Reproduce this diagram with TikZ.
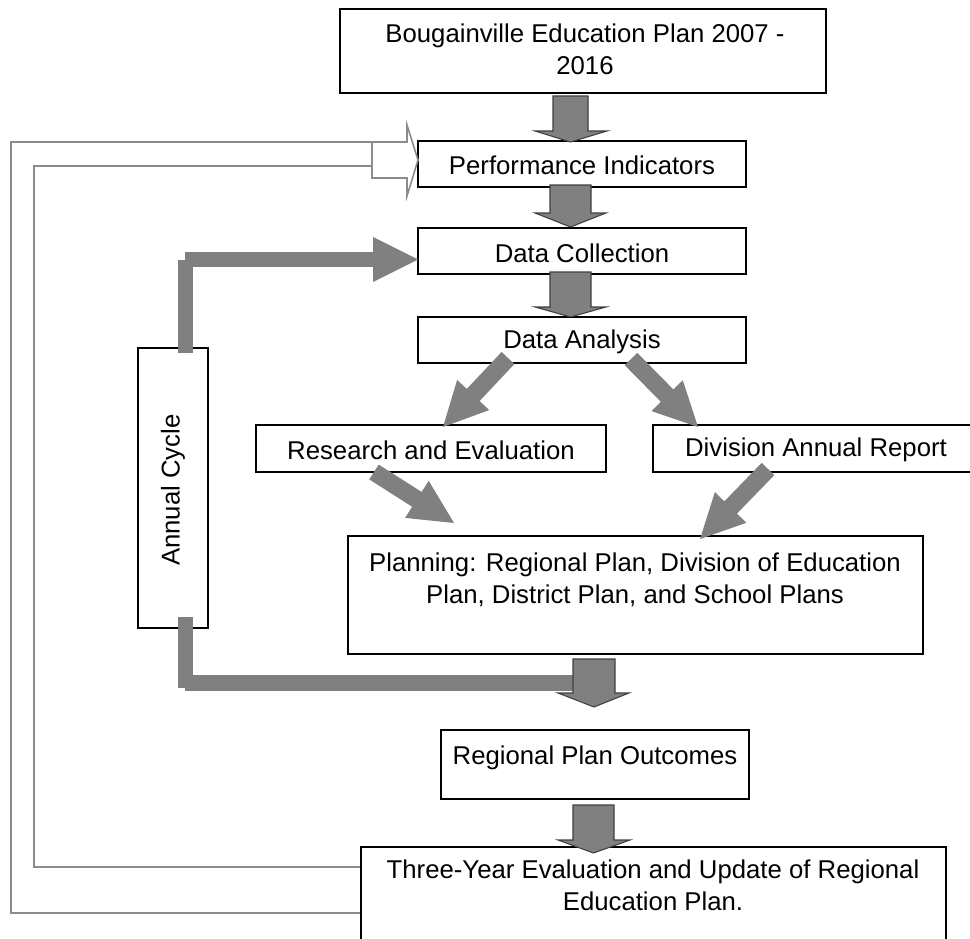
\documentclass[tikz,border=0pt]{standalone}
\usepackage{fontspec}
\setmainfont{Liberation Sans}
\usetikzlibrary{calc,fit}
\definecolor{arrowgray}{HTML}{808080}
\definecolor{edgegray}{HTML}{404040}
\definecolor{linegray}{HTML}{8C8C8C}
% block arrow: #1 start coord, #2 tip coord, #3 shaft half width, #4 head half width, #5 head length, #6 style
\newcommand\blockarr[6]{%
  \coordinate (ba-b) at ($(#2)!#5!(#1)$);
  \fill[#6] ($(#1)!#3!90:(#2)$) -- ($(ba-b)!#3!-90:(#1)$) -- ($(ba-b)!#4!-90:(#1)$) -- (#2)
    -- ($(ba-b)!#4!90:(#1)$) -- ($(ba-b)!#3!90:(#1)$) -- ($(#1)!#3!-90:(#2)$) -- cycle;}
% vertical outlined block arrow: shaft x1 x2, top, head base, wing x1 x2, tip
\newcommand\vblock[7]{%
  \draw[downarr] (#1,#3) -- (#2,#3) -- (#2,#4) -- (#6,#4) -- ({(#1+#2)/2},#7) -- (#5,#4) -- (#1,#4) -- cycle;}
\begin{document}
\begin{tikzpicture}[x=0.75pt,y=-0.75pt,
  box/.style={draw=black, line width=1.2pt, inner sep=0pt, fill=white},
  txt/.style={font=\fontsize{19.3}{24}\selectfont, align=center, inner sep=0pt},
  downarr/.style={fill=arrowgray, draw=edgegray, line width=0.8pt, line join=miter},
  flatarr/.style={fill=arrowgray},
  bar/.style={draw=arrowgray, line width=11.5pt},
  fb/.style={draw=linegray, line width=1.2pt}]
\useasboundingbox (0,0) rectangle (970,938);
\clip (0,0) rectangle (970,938);

% boxes
\node[box, fit={(340,9) (826,93)}] (bep) {};
\node[box, fit={(418,141) (746,187)}] (pi) {};
\node[box, fit={(418,228) (746,274)}] (dc) {};
\node[box, fit={(418,317) (746,363)}] (da) {};
\node[box, fit={(256,425) (606,472)}] (re) {};
\node[box, fit={(653,425) (982,472)}] (dar) {};
\node[box, fit={(348,536) (923,654)}] (plan) {};
\node[box, fit={(441,730) (749,799)}] (rpo) {};
\node[box, fit={(361,847) (946,960)}] (ty) {};
\node[box, fit={(138,348) (208,628)}] (ac) {};

% texts
\node[txt] (tbep) at (585,49) {Bougainville Education Plan 2007 -\\2016};
\node[txt] (tpi) at (582,165) {Performance Indicators};
\node[txt] (tdc) at (582,253) {Data Collection};
\node[txt] (tda) at (582,342) {Data Analysis};
\node[txt] (tre) at (431,450) {Research and Evaluation};
\node[txt] (tdar) at (816,450) {Division Annual Report};
\node[txt] (tplan) at (635,580) {Planning: Regional Plan, Division of Education\\Plan, District Plan, and School Plans};
\node[txt] (trpo) at (595,758) {Regional Plan Outcomes};
\node[txt] (tty) at (653,885) {Three-Year Evaluation and Update of Regional\\Education Plan.};
\node[txt, rotate=90] (tac) at (173,490) {Annual Cycle};

% feedback lines and hollow arrow
\coordinate (yo) at (0,913);
\coordinate (yi) at (0,867);
\draw[fb] (ty.west |- yo) -- (11,913) -- (11,142) -- (372,142);
\draw[fb] (ty.west |- yi) -- (34,867) -- (34,166) -- (372,166);
\draw[fb, fill=white, line join=miter] (372,142) -- (407,142) -- (407,125) -- (418,160) -- (407,196) -- (407,178) -- (372,178) -- cycle;

% annual cycle thick arrows
\draw[bar] (185.5,353) -- (185.5,260);
\draw[bar] (185,259.5) -- (374,259.5);
\fill[flatarr] (373,237) -- (418,259.5) -- (373,282) -- cycle;
\draw[bar] (185.5,617) -- (185.5,688);
\draw[bar, line width=12pt] (185,683) -- (595,683);

% diagonal arrows
\coordinate (a1s) at (508,358);
\coordinate (a1t) at (443,427);
\coordinate (a2s) at (631,359);
\coordinate (a2t) at (698,427);
\coordinate (a3s) at (374,472);
\coordinate (a3t) at (454,523);
\coordinate (a4s) at (768,469);
\coordinate (a4t) at (700,539);
\blockarr{a1s}{a1t}{6.6pt}{16.5pt}{33pt}{flatarr}
\blockarr{a2s}{a2t}{6.6pt}{16.5pt}{33pt}{flatarr}
\blockarr{a3s}{a3t}{6.6pt}{16.5pt}{33pt}{flatarr}
\blockarr{a4s}{a4t}{6.6pt}{16.5pt}{33pt}{flatarr}

% vertical block arrows
\vblock{553}{588}{96}{131}{535}{607}{142}
\vblock{550}{591}{185}{213}{535}{606}{227}
\vblock{550}{591}{272}{307}{535}{606}{317}
\vblock{573}{615}{659}{693}{558}{629}{707}
\vblock{573}{614}{805}{840}{558}{630}{853}
\end{tikzpicture}
\end{document}
